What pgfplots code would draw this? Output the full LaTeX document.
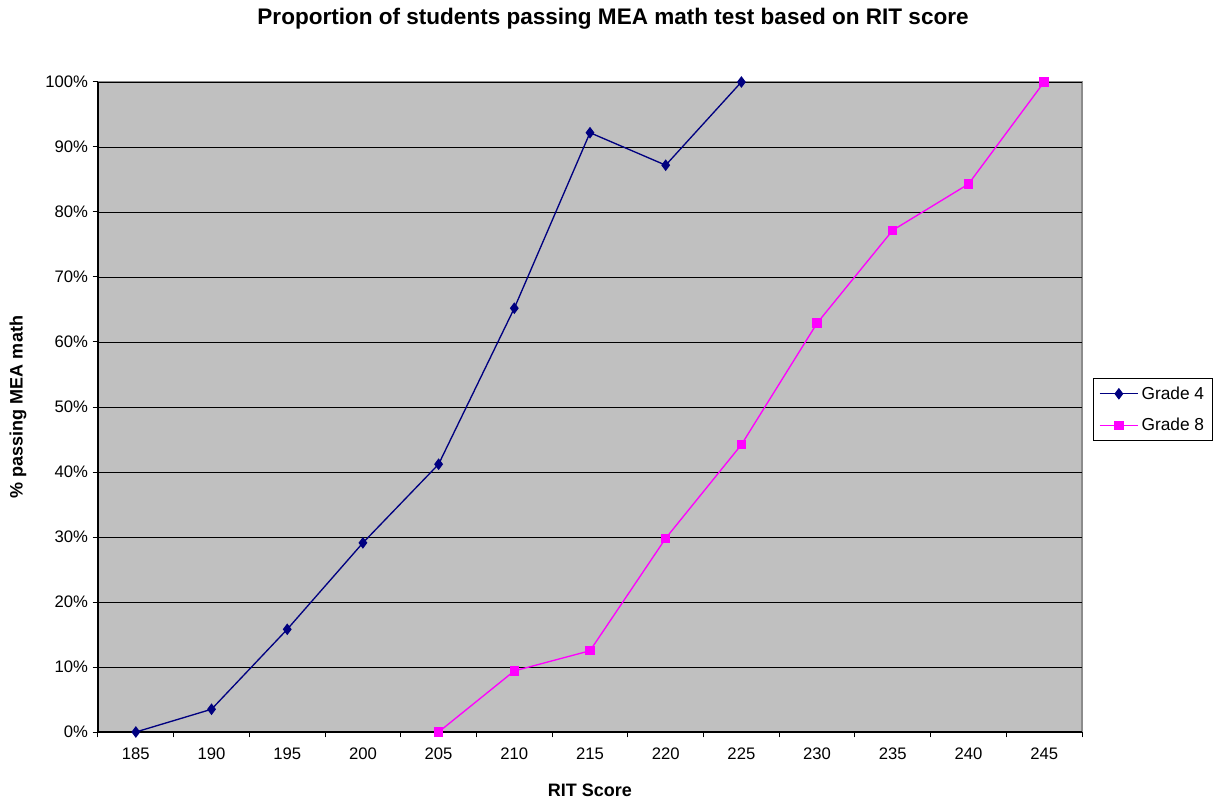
\documentclass[border=0pt]{standalone}
\usepackage{fontspec}
\setmainfont{Liberation Sans}
\usepackage{pgfplots}
\pgfplotsset{compat=1.18}
\definecolor{plotbg}{RGB}{192,192,192}
\definecolor{gnavy}{RGB}{0,0,128}
\definecolor{gmag}{RGB}{255,0,255}
\begin{document}
\begin{tikzpicture}
\path (-73.5pt,-54pt) rectangle (845.25pt,549pt);
\begin{axis}[
  at={(0,0)}, anchor=south west,
  scale only axis, width=738pt, height=487.5pt,
  xmin=-0.5, xmax=12.5, ymin=0, ymax=100,
  axis x line*=bottom, axis y line*=left,
  axis line style={black, line width=0.9pt},
  axis background/.style={fill=plotbg, draw=gray!90, line width=0.9pt},
  xtick={0,...,12},
  xticklabels={185,190,195,200,205,210,215,220,225,230,235,240,245},
  minor xtick={-0.5,0.5,...,12.5},
  major x tick style={draw=none},
  minor x tick style={black, line width=0.75pt},
  minor tick length=4pt,
  ytick={0,10,...,100},
  yticklabel={\pgfmathprintnumber{\tick}\%},
  major y tick style={black, line width=0.75pt},
  major tick length=4pt,
  tick align=outside,
  ymajorgrids, grid style={black, line width=0.6pt},
  /pgf/number format/assume math mode=true,
  tick label style={font=\fontsize{12.5}{14}\selectfont},
  xticklabel style={yshift=-4pt},
  title={Proportion of students passing MEA math test based on RIT score},
  title style={at={(axis description cs:0.5234,1.098)}, anchor=center, yshift=-6pt, font=\bfseries\fontsize{16.9}{18}\selectfont},
  xlabel={RIT Score},
  xlabel style={at={(axis description cs:0.5,-0.089)}, anchor=center, font=\bfseries\fontsize{13.5}{15}\selectfont},
  ylabel={\% passing MEA math},
  ylabel style={at={(axis description cs:-0.0813,0.5)}, anchor=center, rotate=0, font=\bfseries\fontsize{13.5}{15}\selectfont},
  legend style={at={(axis description cs:1.0112,0.5446)}, anchor=north west, draw=black, line width=0.75pt, fill=white,
    font=\fontsize{13}{15}\selectfont, row sep=9pt, inner sep=4pt},
  legend cell align=left,
  legend image code/.code={\draw[#1, line width=1pt] (0pt,0pt) -- (29pt,0pt); \draw[#1, only marks] plot coordinates {(14.5pt,0pt)};},
]
\addplot[gnavy, line width=1pt, mark=diamond*, mark size=3.6pt, mark options={solid, fill=gnavy}]
  coordinates {(0,0) (1,3.5) (2,15.8) (3,29.1) (4,41.2) (5,65.2) (6,92.2) (7,87.2) (8,100)};
\addlegendentry{Grade 4}
\addplot[gmag, line width=1pt, mark=square*, mark size=3pt, mark options={solid, fill=gmag}]
  coordinates {(4,0) (5,9.4) (6,12.5) (7,29.8) (8,44.2) (9,62.9) (10,77.2) (11,84.3) (12,100)};
\addlegendentry{Grade 8}
\end{axis}
\end{tikzpicture}
\end{document}
